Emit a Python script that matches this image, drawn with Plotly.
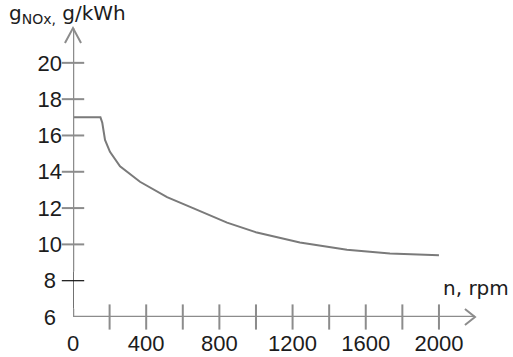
import plotly.graph_objects as go

# ---- data ----
n_rpm = [0, 150, 160, 166, 175, 202, 257, 366, 475, 514, 656, 842, 1005, 1240, 1497, 1732, 2000]
g_nox = [17, 17, 16.7, 16.3, 15.75, 15.1, 14.3, 13.45, 12.85, 12.6, 12.0, 11.2, 10.65, 10.1, 9.7, 9.5, 9.4]

x_ticks = [0, 400, 800, 1200, 1600, 2000]
x_minor = [200, 400, 600, 800, 1000, 1200, 1400, 1600, 1800, 2000]
y_ticks = [6, 8, 10, 12, 14, 16, 18, 20]
y_tick_text = ["6\u2008", "8\u2008", "10", "12", "14", "16", "18", "20"]
y_gray_ticks = [10, 12, 14, 16, 18, 20]
y_black_ticks = [8]

X_MAX = 2197
Y_MAX = 21.92
AX = "#8c8c8c"
TXT = "#1c1c1c"

fig = go.Figure()

# curve
fig.add_trace(go.Scatter(x=n_rpm, y=g_nox, mode="lines",
                         line=dict(color="#7a7a7a", width=2), hoverinfo="skip"))
# x ticks (crossing)
fig.add_trace(go.Scatter(x=x_minor, y=[6] * len(x_minor), mode="markers",
                         marker=dict(symbol="line-ns", size=18, line=dict(color=AX, width=2)),
                         cliponaxis=False, hoverinfo="skip"))
# y ticks (crossing)
fig.add_trace(go.Scatter(x=[0] * len(y_gray_ticks), y=y_gray_ticks, mode="markers",
                         marker=dict(symbol="line-ew", size=16, line=dict(color=AX, width=2)),
                         cliponaxis=False, hoverinfo="skip"))
fig.add_trace(go.Scatter(x=[0] * len(y_black_ticks), y=y_black_ticks, mode="markers",
                         marker=dict(symbol="line-ew", size=16, line=dict(color="#111", width=1.2)),
                         cliponaxis=False, hoverinfo="skip"))

shapes = [
    # y axis: gray upper part, thin black lower part
    dict(type="line", xref="x", yref="y", x0=0, x1=0, y0=8.5, y1=Y_MAX,
         line=dict(color=AX, width=2.5)),
    dict(type="line", xref="x", yref="y", x0=0, x1=0, y0=6.45, y1=8.5,
         line=dict(color="#111", width=1.2)),
    dict(type="line", xref="x", yref="y", x0=0, x1=0, y0=6, y1=6.45,
         line=dict(color=AX, width=2.5)),
    # x axis
    dict(type="line", xref="x", yref="y", x0=0, x1=X_MAX, y0=6, y1=6,
         line=dict(color=AX, width=2.5)),
    # arrow heads
    dict(type="path", xref="paper", yref="paper",
         path="M -0.02,0.948 L 0,1 L 0.02,0.948", line=dict(color=AX, width=2)),
    dict(type="path", xref="paper", yref="paper",
         path="M 0.975,0.028 L 1,0 L 0.975,-0.028", line=dict(color=AX, width=2)),
]

annotations = [
    dict(text="g<sub>NOx,</sub> g/kWh", xref="paper", yref="paper",
         x=-0.165, y=1.05, xanchor="left", yanchor="middle", showarrow=False,
         font=dict(family="DejaVu Sans", size=20, color=TXT)),
    dict(text="n, rpm", xref="paper", yref="paper",
         x=0.915, y=0.1, xanchor="left", yanchor="middle", showarrow=False,
         font=dict(family="DejaVu Sans", size=20, color=TXT)),
]

fig.update_layout(
    width=513, height=357,
    margin=dict(l=73, r=38, t=28, b=40, autoexpand=False),
    paper_bgcolor="white", plot_bgcolor="white",
    showlegend=False,
    shapes=shapes, annotations=annotations,
    xaxis=dict(range=[0, X_MAX], tickvals=x_ticks, ticktext=[str(v) for v in x_ticks],
               showgrid=False, zeroline=False, showline=False, ticks="",
               automargin=False, ticklabelstandoff=11,
               tickfont=dict(family="Liberation Sans", size=22, color=TXT)),
    yaxis=dict(range=[6, Y_MAX], tickvals=y_ticks, ticktext=y_tick_text,
               showgrid=False, zeroline=False, showline=False, ticks="",
               automargin=False, ticklabelstandoff=10,
               tickfont=dict(family="Liberation Sans", size=22, color=TXT)),
)

fig.write_html("out.html", config={"displayModeBar": False},
               post_script="document.body.style.margin='0';document.body.style.overflow='hidden';")
